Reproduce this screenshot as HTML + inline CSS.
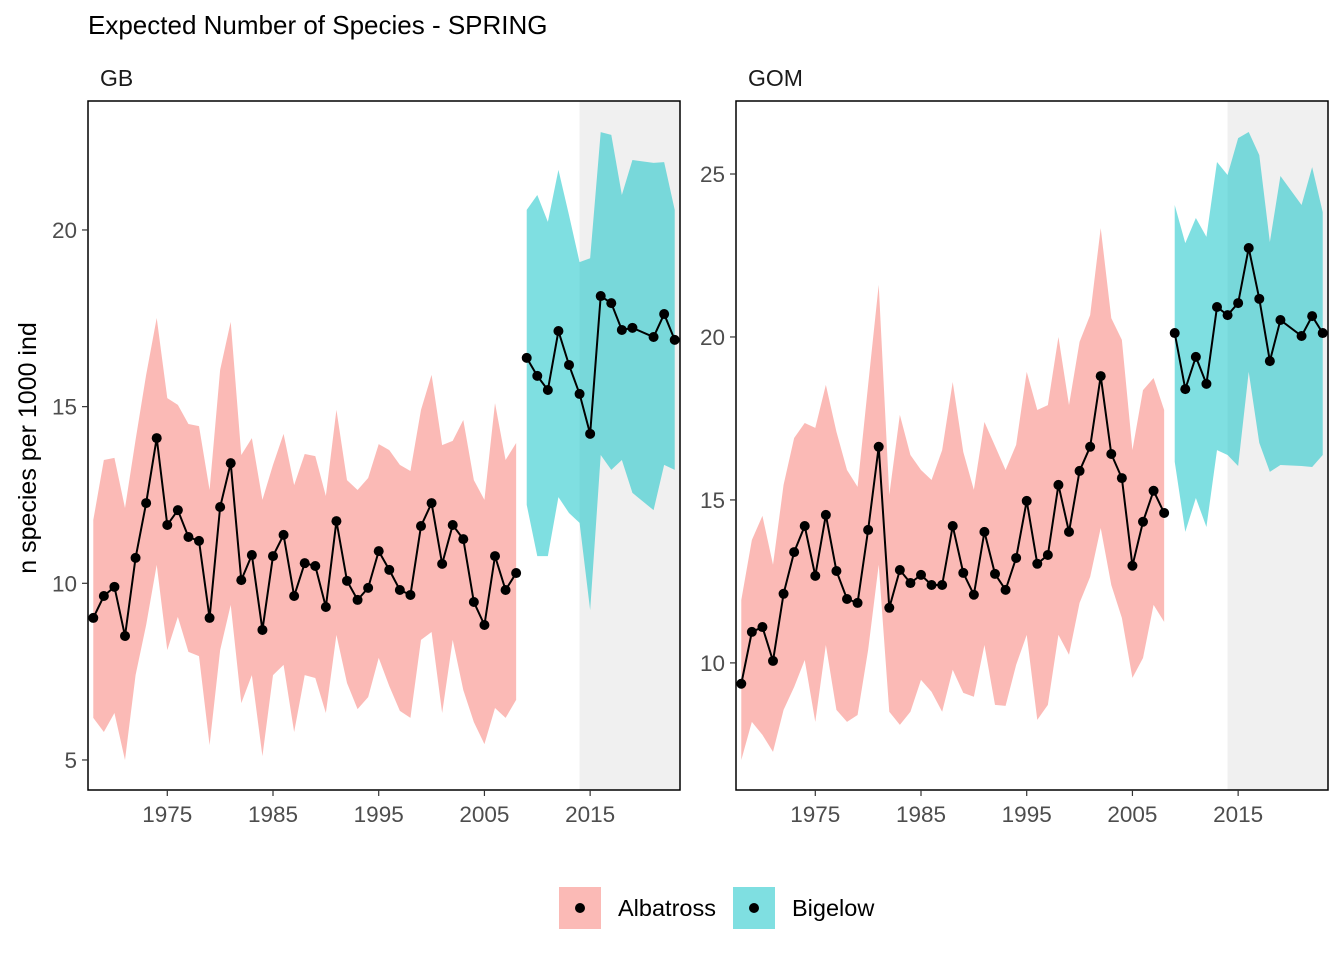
<!DOCTYPE html>
<html><head><meta charset="utf-8"><style>
body{margin:0;background:#fff;}
svg text{font-family:"Liberation Sans",Arial,sans-serif;}
</style></head><body>
<svg id="chart" width="1344" height="960" xmlns="http://www.w3.org/2000/svg">
<rect width="1344" height="960" fill="#fff"/>
<text x="88" y="34" font-size="26" fill="#000">Expected Number of Species - SPRING</text>
<text x="36" y="448" font-size="25" fill="#000" text-anchor="middle" transform="rotate(-90 36 448)">n species per 1000 ind</text>
<g id="legend">
<g>
<rect x="559" y="887" width="42" height="42" fill="#F8766D" fill-opacity="0.5"/>
<circle cx="580" cy="908" r="5" fill="#000"/>
<text x="618" y="916" font-size="23.5">Albatross</text></g>
<g>
<rect x="733" y="887" width="42" height="42" fill="#00BFC4" fill-opacity="0.5"/>
<circle cx="754" cy="908" r="5" fill="#000"/>
<text x="792" y="916" font-size="23.5">Bigelow</text></g>
</g>
</svg>
<script>
const albYears = Array.from({length:41},(_, i)=>1968+i);
const bigYears = [2009,2010,2011,2012,2013,2014,2015,2016,2017,2018,2019,2021,2022,2023];
const xTicks = [1975,1985,1995,2005,2015];
const gbYTicks = [5,10,15,20];
const gomYTicks = [10,15,20,25];
const gbAlbMean = [9.02,9.64,9.9,8.51,10.72,12.27,14.11,11.65,12.07,11.31,11.2,9.02,12.16,13.4,10.09,10.8,8.68,10.77,11.37,9.64,10.57,10.49,9.33,11.76,10.07,9.53,9.87,10.91,10.38,9.81,9.67,11.62,12.27,10.55,11.65,11.25,9.47,8.82,10.77,9.81,10.29];
const gbAlbUpper = [11.79,13.49,13.55,12.13,14.06,15.9,17.51,15.24,15.05,14.51,14.45,12.64,16.04,17.4,13.63,14.11,12.36,13.35,14.23,12.78,13.66,13.6,12.47,14.91,12.92,12.64,12.98,13.94,13.77,13.35,13.18,14.91,15.9,13.91,14.03,14.62,12.92,12.36,15.1,13.49,13.97];
const gbAlbLower = [6.19,5.79,6.33,5.0,7.4,8.82,10.52,8.11,9.05,8.06,7.94,5.42,8.11,9.39,6.61,7.4,5.11,7.4,7.69,5.79,7.4,7.32,6.33,8.54,7.18,6.44,6.78,7.89,7.09,6.39,6.19,8.4,8.62,6.33,8.4,6.98,6.07,5.45,6.47,6.19,6.7];
const gbBigMean = [16.38,15.87,15.47,17.14,16.18,15.36,14.23,18.13,17.93,17.17,17.23,16.97,17.62,16.89];
const gbBigUpper = [20.57,20.99,20.23,21.7,20.42,19.09,19.2,22.77,22.69,20.99,21.98,21.9,21.92,20.57];
const gbBigLower = [12.22,10.77,10.77,12.44,11.99,11.71,9.24,13.63,13.21,13.49,12.56,12.07,13.35,13.21];
const gomAlbMean = [9.36,10.95,11.1,10.06,12.12,13.4,14.2,12.67,14.54,12.82,11.96,11.84,14.08,16.63,11.69,12.85,12.45,12.7,12.39,12.39,14.2,12.76,12.09,14.02,12.73,12.24,13.22,14.97,13.04,13.31,15.46,14.02,15.89,16.63,18.8,16.41,15.67,12.98,14.33,15.28,14.6];
const gomAlbUpper = [11.93,13.77,14.51,13.01,15.46,16.9,17.36,17.21,18.53,17.09,15.92,15.4,18.53,21.6,15.15,17.61,16.38,15.92,15.61,16.53,18.62,16.47,15.31,17.39,16.66,15.92,16.69,18.93,17.76,17.91,20.0,17.91,19.85,20.67,23.34,20.58,19.91,16.53,18.37,18.74,17.76];
const gomAlbLower = [7.02,8.19,7.79,7.27,8.56,9.26,10.09,8.19,10.55,8.56,8.19,8.4,10.4,13.01,8.5,8.1,8.5,9.48,9.11,8.5,9.79,9.08,8.96,10.55,8.71,8.68,9.94,10.86,8.25,8.71,10.86,10.25,11.84,12.64,14.14,12.39,11.38,9.54,10.15,11.78,11.26];
const gomBigMean = [20.12,18.4,19.39,18.56,20.92,20.67,21.04,22.73,21.17,19.26,20.52,20.03,20.64,20.12];
const gomBigUpper = [24.05,22.88,23.65,23.07,25.37,24.97,26.1,26.29,25.58,22.91,24.94,24.05,25.21,23.83];
const gomBigLower = [16.17,14.02,15.06,14.17,16.53,16.38,16.04,18.93,16.75,15.86,16.07,16.04,16.01,16.38];

const NS='http://www.w3.org/2000/svg';
const svg=document.getElementById('chart');
function mk(tag,attrs,parent){const e=document.createElementNS(NS,tag);for(const k in attrs)e.setAttribute(k,attrs[k]);(parent||svg).appendChild(e);return e;}

function panel(key,label,left,yMin,yMax,yTicks,series){
  const right=left+592, top=101, bottom=790;
  const xMin=1967.5, xMax=2023.5;
  const sx=v=>left+(v-xMin)/(xMax-xMin)*(right-left);
  const sy=v=>bottom-(v-yMin)/(yMax-yMin)*(bottom-top);
  const g=mk('g',{});
  
  
  const strip=mk('text',{x:left+12,y:86,'font-size':23,fill:'#1a1a1a'},g);
  strip.textContent=label;
  
  
  const shade=mk('rect',{x:sx(2014),y:top,width:right-sx(2014),height:bottom-top,fill:'#f0f0f0'},g);
  
  
  series.forEach(s=>{
    const up=s.years.map((y,i)=>sx(y)+','+sy(s.upper[i]));
    const lo=s.years.map((y,i)=>sx(y)+','+sy(s.lower[i])).reverse();
    const rib=mk('polygon',{points:up.concat(lo).join(' '),fill:s.color,'fill-opacity':0.5},g);
    
    
  });
  series.forEach(s=>{
    const line=mk('polyline',{points:s.years.map((y,i)=>sx(y)+','+sy(s.mean[i])).join(' '),fill:'none',stroke:'#000','stroke-width':2},g);
    
    
    s.years.forEach((y,i)=>{
      const c=mk('circle',{cx:sx(y),cy:sy(s.mean[i]),r:5,fill:'#000'},g);
      
      
    });
  });
  const frame=mk('rect',{x:left,y:top,width:right-left,height:bottom-top,fill:'none',stroke:'#000','stroke-width':1.5},g);
  
  
  xTicks.forEach(t=>{
    mk('line',{x1:sx(t),x2:sx(t),y1:bottom,y2:bottom+6,stroke:'#333','stroke-width':1.2},g);
    const tx=mk('text',{x:sx(t),y:bottom+32,'font-size':22.5,fill:'#4d4d4d','text-anchor':'middle'},g);
    tx.textContent=t;
    
    
  });
  yTicks.forEach(t=>{
    mk('line',{x1:left-6,x2:left,y1:sy(t),y2:sy(t),stroke:'#333','stroke-width':1.2},g);
    const tx=mk('text',{x:left-11,y:sy(t)+8,'font-size':22.5,fill:'#4d4d4d','text-anchor':'end'},g);
    tx.textContent=t;
    
    
  });
}
panel('gb','GB',88,4.15,23.65,gbYTicks,[
 {name:'albatross',years:albYears,mean:gbAlbMean,upper:gbAlbUpper,lower:gbAlbLower,color:'#F8766D'},
 {name:'bigelow',years:bigYears,mean:gbBigMean,upper:gbBigUpper,lower:gbBigLower,color:'#00BFC4'}]);
panel('gom','GOM',736,6.1,27.24,gomYTicks,[
 {name:'albatross',years:albYears,mean:gomAlbMean,upper:gomAlbUpper,lower:gomAlbLower,color:'#F8766D'},
 {name:'bigelow',years:bigYears,mean:gomBigMean,upper:gomBigUpper,lower:gomBigLower,color:'#00BFC4'}]);
</script>
</body></html>
